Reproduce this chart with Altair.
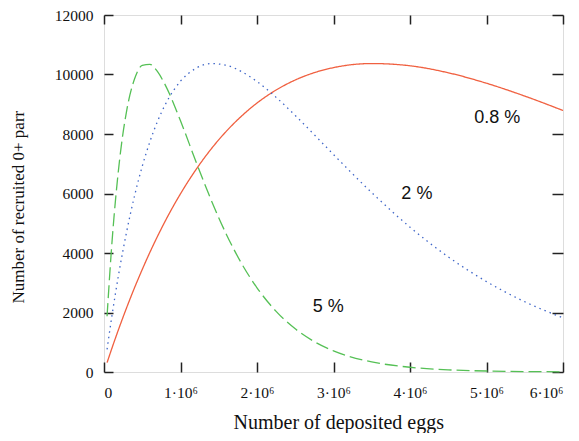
import altair as alt
import pandas as pd

# Number of deposited eggs (x) at which values were read
eggs = [0.04e6, 0.1e6, 0.2e6, 0.3e6, 0.4e6, 0.5e6, 0.6e6, 0.7e6, 0.8e6, 1.0e6,
        1.2e6, 1.4e6, 1.6e6, 1.8e6, 2.0e6, 2.25e6, 2.5e6, 2.75e6, 3.0e6, 3.5e6,
        4.0e6, 4.5e6, 5.0e6, 5.5e6, 6.0e6]

recruits_08 = [314, 772, 1501, 2189, 2838, 3447, 4023, 4563, 5071, 5991,
               6795, 7494, 8095, 8607, 9041, 9479, 9815, 10063, 10231, 10368,
               10293, 10058, 9706, 9275, 8790]
recruits_2 = [762, 1826, 3407, 4767, 5931, 6916, 7742, 8427, 8986, 9775,
              10207, 10367, 10310, 10094, 9763, 9231, 8623, 7972, 7311, 6028,
              4869, 3870, 3039, 2362, 1820]
recruits_5 = [1875, 4211, 7043, 8837, 9856, 10306, 10343, 10094, 9651, 8443,
              7085, 5785, 4625, 3640, 2831, 2038, 1450, 1020, 711, 340,
              159, 73, 33, 15, 7]

series_names = ["0.8 %", "2 %", "5 %"]
series_colors = ["#F06040", "#3F66C8", "#55C055"]
series_dash = [[1, 0], [1.5, 4], [13, 5]]

label_text = ["0.8 %", "2 %", "5 %"]
label_x = [5.14e6, 4.09e6, 2.93e6]
label_y = [8530, 5970, 2180]

x_ticks = [0, 1e6, 2e6, 3e6, 4e6, 5e6, 6e6]
y_ticks = [0, 2000, 4000, 6000, 8000, 10000, 12000]

rows = []
for name, vals in zip(series_names, [recruits_08, recruits_2, recruits_5]):
    for e, r in zip(eggs, vals):
        rows.append({"eggs": e, "recruits": r, "series": name})
df = pd.DataFrame(rows)
labels = pd.DataFrame({"text": label_text, "x": label_x, "y": label_y})

serif = "Liberation Serif"
xscale = alt.Scale(domain=[0, 6e6], nice=False, zero=False)
yscale = alt.Scale(domain=[0, 12000], nice=False)
label_expr = "datum.value == 0 ? '0' : format(datum.value/1000000, 'd') + '\u00b710\u2076'"

lines = alt.Chart(df).mark_line(strokeWidth=1.3, interpolate="monotone").encode(
    x=alt.X("eggs:Q", scale=xscale,
            axis=alt.Axis(orient="bottom", values=x_ticks, labelExpr=label_expr,
                          title="Number of deposited eggs", grid=False, domain=False,
                          offset=-10, tickSize=10, tickColor="#222", tickWidth=1.5,
                          labelPadding=13, labelFont=serif, labelFontSize=15.5,
                          labelColor="#111", titleFont=serif, titleFontSize=20,
                          titleFontWeight="normal", titleColor="#111",
                          titleX=129, titleY=66, titleAlign="left",
                          titleBaseline="alphabetic")),
    y=alt.Y("recruits:Q", scale=yscale,
            axis=alt.Axis(orient="left", values=y_ticks, format="d",
                          title="Number of recruited 0+ parr", grid=False, domain=False,
                          offset=-9, tickSize=9, tickColor="#222", tickWidth=1.5,
                          labelPadding=11, labelFont=serif, labelFontSize=15.5,
                          labelColor="#111", titleFont=serif, titleFontSize=17,
                          titleFontWeight="normal", titleColor="#111",
                          titleX=-95, titleY=288, titleAlign="left",
                          titleBaseline="middle")),
    color=alt.Color("series:N", scale=alt.Scale(domain=series_names, range=series_colors),
                    legend=None),
    strokeDash=alt.StrokeDash("series:N",
                              scale=alt.Scale(domain=series_names, range=series_dash),
                              legend=None),
)

frame_axes = alt.Chart(df).mark_line(opacity=0).encode(
    x=alt.X("eggs:Q", scale=xscale,
            axis=alt.Axis(orient="top", values=x_ticks, labels=False, title=None,
                          grid=False, domain=False, offset=-9, tickSize=9,
                          tickColor="#222", tickWidth=1.5)),
    y=alt.Y("recruits:Q", scale=yscale,
            axis=alt.Axis(orient="right", values=y_ticks, labels=False, title=None,
                          grid=False, domain=False, offset=-11, tickSize=11,
                          tickColor="#222", tickWidth=1.5)),
    detail="series:N",
)

texts = alt.Chart(labels).mark_text(font="Liberation Sans", fontSize=18,
                                    color="#111", align="center", baseline="middle").encode(
    x=alt.X("x:Q", scale=xscale, axis=None),
    y=alt.Y("y:Q", scale=yscale, axis=None),
    text="text:N",
)

chart = alt.layer(lines, frame_axes, texts).resolve_axis(
    x="independent", y="independent"
).properties(
    width=459, height=357,
    autosize=alt.AutoSizeParams(type="none"),
    padding={"left": 96, "top": 7, "right": 8, "bottom": 61},
).configure_axis(
    labelFont=serif, titleFont=serif
).configure_view(stroke="#222", strokeWidth=1.5).configure(background="white")

chart.save("out.html", embed_options={"renderer": "svg", "actions": False})
